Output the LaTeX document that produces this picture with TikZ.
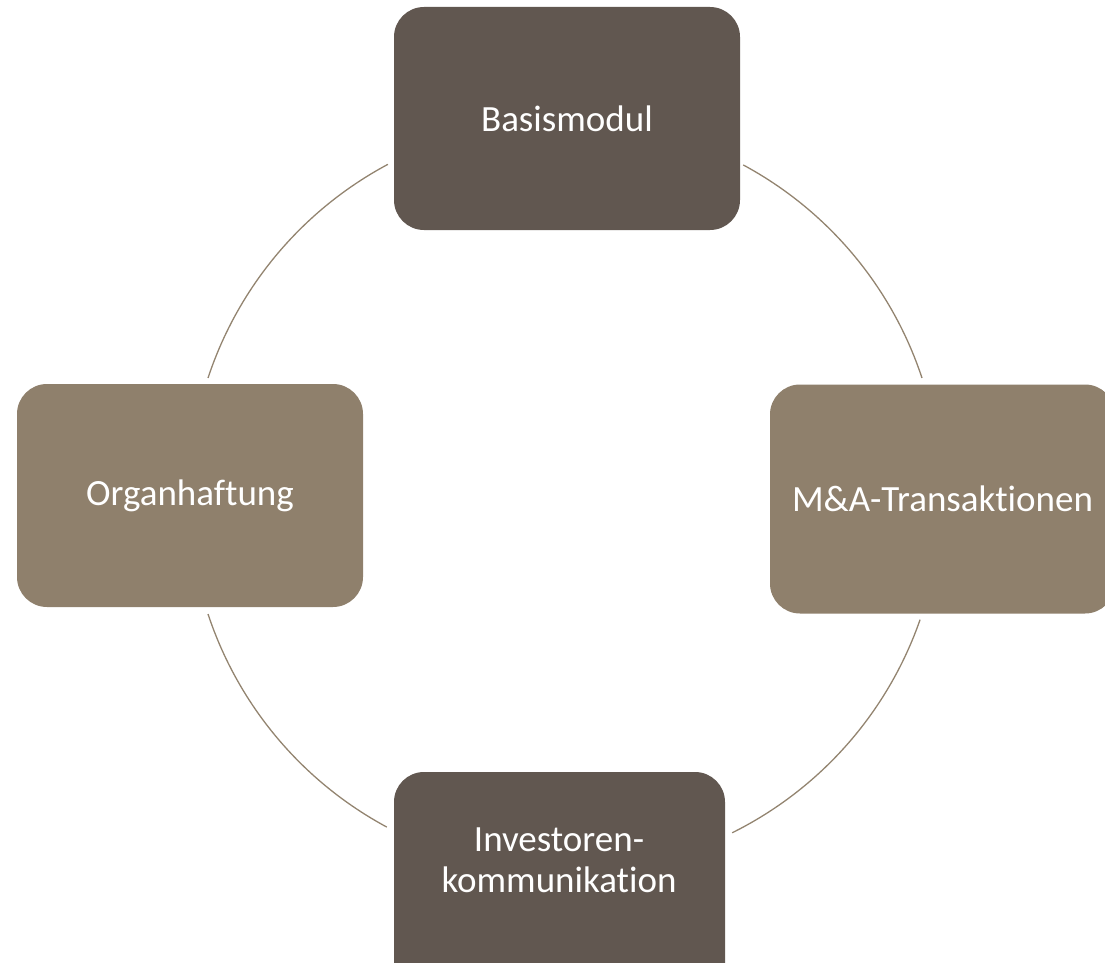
\documentclass[tikz,border=0pt]{standalone}
\usepackage{fontspec}
\setmainfont{Carlito}[Ligatures=NoCommon]
\definecolor{darkbox}{HTML}{615750}
\definecolor{lightbox}{HTML}{8F806C}
\definecolor{ringcol}{HTML}{938470}
\begin{document}
\begin{tikzpicture}[x=1pt,y=-1pt,
  box/.style={rounded corners=30pt, inner sep=0pt, text=white, font=\fontsize{37}{41}\selectfont, align=center},
  darkcard/.style={box, fill=darkbox},
  lightcard/.style={box, fill=lightbox},
  lbl/.style={text=white, font=\fontsize{37}{41}\selectfont, align=center, inner sep=0pt},
  ring/.style={draw=ringcol, line width=1.3pt}]
\useasboundingbox (0,0) rectangle (1105,963);
\clip (0,0) rectangle (1105,963);
\coordinate (c) at (565,496);
% ring arcs
\draw[ring] (c) ++(118.1:376pt) arc[start angle=118.1, end angle=161.7, radius=376pt];
\draw[ring] (c) ++(18.3:376pt) arc[start angle=18.3, end angle=61.7, radius=376pt];
\draw[ring] (c) ++(-63.6:376pt) arc[start angle=-63.6, end angle=-19.2, radius=376pt];
\draw[ring] (c) ++(-161.7:376pt) arc[start angle=-161.7, end angle=-118.3, radius=376pt];
% cards
\node[darkcard, minimum width=346pt, minimum height=223pt] (bas) at (567,118.5) {Basismodul};
\node[lightcard, minimum width=346pt, minimum height=223pt] (org) at (190,495.5) {Organhaftung};
\node[lightcard, minimum width=345pt, minimum height=229pt] (ma) at (942.5,499) {M\&A-Transaktionen};
\node[darkcard, minimum width=331pt, minimum height=223pt] (inv) at (559.5,883.5) {};
\node[lbl] (invt) at (559,860) {Investoren-\\kommunikation};
\end{tikzpicture}
\end{document}
